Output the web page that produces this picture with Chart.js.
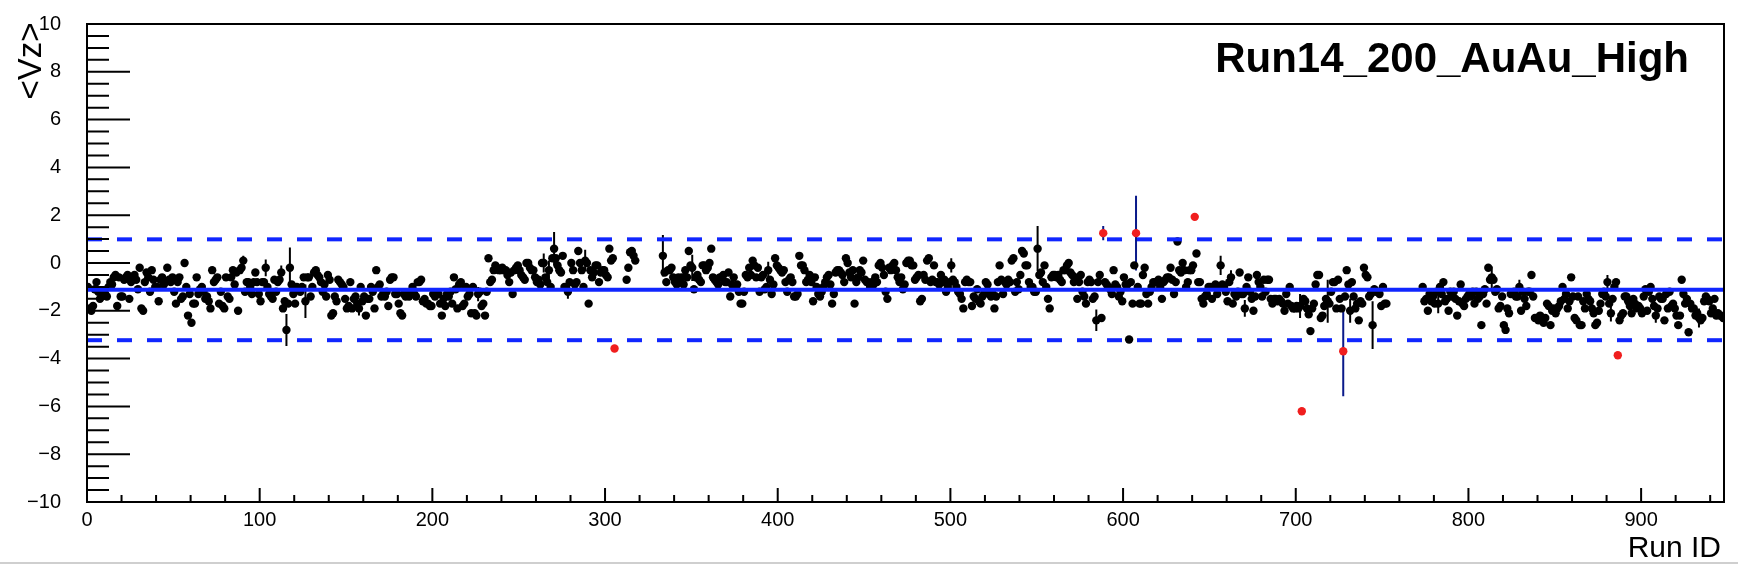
<!DOCTYPE html>
<html>
<head>
<meta charset="utf-8">
<title>Run14_200_AuAu_High &lt;Vz&gt;</title>
<script src="https://cdn.jsdelivr.net/npm/chart.js@4.4.1/dist/chart.umd.min.js"></script>
<style>
  html, body { margin: 0; padding: 0; background: #fff; }
  canvas { display: block; }
</style>
</head>
<body>
<canvas id="vzChart" width="1738" height="564"></canvas>
<script>
// ======= DATA =======
const plotTitle = "Run14_200_AuAu_High";
const xTitle = "Run ID";
const yTitle = "<Vz>";
const runMax = 948;
const yTicks = [-10, -8, -6, -4, -2, 0, 2, 4, 6, 8, 10];
const xTicks = [0, 100, 200, 300, 400, 500, 600, 700, 800, 900];

// fit lines
const vzMean = -1.12;
const vzUpper = 0.99;
const vzLower = -3.23;

// <Vz> per run index (null = no entry / flagged run)
const vz = [
  /*   0 */ -1.0, -1.9, -2.0, -1.8, -1.1, -0.8, -1.2, -1.5, -1.4, -1.2,
  /*  10 */ -1.3, -1.4, -1.0, -0.8, -0.9, -0.6, -0.5, -1.8, -0.6, -1.4,
  /*  20 */ -1.4, -0.7, -0.6, -0.5, -1.5, -0.8, -0.6, -0.5, -0.7, -1.1,
  /*  30 */ -0.2, -1.9, -2.0, -0.8, -0.4, -0.6, -1.2, -0.3, -0.7, -1.0,
  /*  40 */ -1.0, -1.6, -0.7, -0.6, -0.9, -0.8, -0.2, -0.7, -0.8, -0.6,
  /*  50 */ -1.2, -1.7, -0.8, -0.6, -1.5, -1.4, 0.0, -1.0, -2.2, -1.3,
  /*  60 */ -2.5, -1.7, -1.7, -0.6, -1.3, -1.1, -1.0, -1.2, -1.5, -1.4,
  /*  70 */ -1.6, -1.9, -0.3, -0.8, -0.7, -0.6, -1.7, -1.2, -1.8, -1.9,
  /*  80 */ -0.6, -1.4, -1.5, -0.6, -0.3, -0.9, -0.4, -2.0, -0.3, -0.2,
  /*  90 */ 0.1, -1.2, -0.8, -0.8, -1.0, -1.3, -0.8, -0.4, -0.8, -1.3,
  /* 100 */ -1.6, -0.8, -0.8, -0.2, -1.0, -1.3, -1.4, -1.5, -0.7, -1.2,
  /* 110 */ -0.8, -0.7, -0.4, -1.9, -1.6, -2.8, -1.7, -0.2, -0.9, -1.3,
  /* 120 */ -1.7, -1.0, -1.1, -1.2, -1.0, -0.6, -1.6, -0.6, -0.6, -1.4,
  /* 130 */ -1.0, -0.4, -0.3, -0.5, -0.6, -0.8, -1.2, -0.9, -1.4, -0.5,
  /* 140 */ -0.7, -2.2, -2.1, -1.4, -1.6, -0.7, -0.8, -0.9, -1.0, -1.5,
  /* 150 */ -1.9, -1.8, -0.8, -1.9, -1.5, -1.4, -1.7, -1.9, -1.0, -1.6,
  /* 160 */ -1.4, -2.2, -1.5, -1.5, -1.0, -1.2, -1.9, -0.3, -1.0, -0.9,
  /* 170 */ -1.4, -1.3, -1.4, -1.2, -1.8, -0.7, -0.6, -0.6, -1.3, -1.3,
  /* 180 */ -1.7, -2.1, -2.2, -1.3, -1.4, -1.3, -1.4, -1.3, -1.0, -1.3,
  /* 190 */ -1.4, -0.8, -0.8, -0.7, -1.6, -1.5, -1.7, -1.7, -1.8, -1.8,
  /* 200 */ -1.3, -1.4, -1.3, -1.3, -1.7, -2.2, -1.5, -1.8, -1.3, -1.4,
  /* 210 */ -1.2, -1.7, -0.6, -1.1, -1.9, -0.9, -0.8, -1.8, -1.7, -1.0,
  /* 220 */ -1.4, -1.3, -2.1, -1.0, -2.1, -2.2, -1.3, -1.2, -1.8, -1.7,
  /* 230 */ -2.2, -1.2, 0.2, -0.8, -0.7, -0.3, -0.1, -0.2, -0.3, -0.3,
  /* 240 */ -0.2, -0.3, -0.3, -0.5, -0.8, -0.4, -1.3, -0.3, -0.2, -0.1,
  /* 250 */ -0.3, -0.5, -0.6, -0.7, 0.0, 0.0, -0.2, -0.3, -0.3, -0.6,
  /* 260 */ -0.8, -0.7, -0.9, 0.0, 0.0, -0.6, -0.8, -0.3, -1.0, 0.2,
  /* 270 */ 0.6, 0.2, -0.1, -0.3, -0.4, 0.3, -1.0, -1.0, -1.2, -0.8,
  /* 280 */ 0.0, -0.3, -0.9, -0.8, 0.5, 0.0, -0.3, -1.0, 0.1, 0.0,
  /* 290 */ -1.7, -0.3, -0.6, -0.4, -0.1, -0.1, -0.8, -0.4, -0.3, -0.3,
  /* 300 */ -0.5, -0.6, 0.6, 0.1, 0.2, null, null, null, null, null,
  /* 310 */ null, null, -0.7, -0.2, 0.45, 0.5, 0.3, 0.1, null, null,
  /* 320 */ null, null, null, null, null, null, null, null, null, null,
  /* 330 */ null, null, null, 0.3, -0.4, -0.8, -0.3, -0.3, -0.2, -0.6,
  /* 340 */ -0.8, -0.9, -0.6, -0.8, -0.6, -0.9, -0.3, -0.6, 0.5, -0.1,
  /* 350 */ -0.2, -1.1, -0.6, -0.5, -0.7, -0.8, -0.1, -0.1, -0.3, -0.2,
  /* 360 */ 0.0, 0.6, -0.6, -0.7, -0.8, -0.9, -0.6, -0.6, -0.5, -0.8,
  /* 370 */ -0.8, -0.4, -1.4, -0.9, -0.6, -1.0, -0.9, -1.2, -1.7, -1.7,
  /* 380 */ -1.2, -0.5, -0.6, -0.2, -0.5, 0.1, -0.1, -0.6, -0.2, -1.2,
  /* 390 */ -0.6, -0.5, -1.1, -1.0, -0.3, -0.7, -1.3, -0.9, 0.2, -0.1,
  /* 400 */ -0.2, -0.3, -0.4, -0.3, -0.8, -1.2, -0.7, -0.6, -0.8, -1.4,
  /* 410 */ -1.4, -1.3, 0.3, -0.1, -0.1, -0.3, -0.8, -0.7, -0.5, -0.8,
  /* 420 */ -1.6, -0.6, -1.0, -1.3, -1.4, -1.2, -1.0, -0.8, -0.6, -0.5,
  /* 430 */ -0.9, -1.7, -1.3, -0.4, -0.3, -0.3, -0.4, -0.5, -0.8, 0.2,
  /* 440 */ 0.0, -0.4, -0.6, -0.3, -1.7, -0.8, -0.6, -0.3, -0.4, 0.1,
  /* 450 */ -0.7, -0.8, -0.8, -1.0, -0.8, -0.9, -0.6, -0.8, -0.1, 0.0,
  /* 460 */ -0.2, -0.5, -1.2, -1.5, -0.2, -0.3, -0.1, 0.0, -0.3, -0.6,
  /* 470 */ -0.8, -0.6, -1.1, -0.9, 0.0, 0.1, 0.1, -0.1, -0.1, -0.7,
  /* 480 */ -0.6, -0.5, -1.6, -1.5, -0.5, -0.7, 0.1, 0.2, -0.8, -0.7,
  /* 490 */ -0.1, -0.8, -0.8, -0.9, -0.5, -0.8, -0.7, -1.2, -1.0, -0.8,
  /* 500 */ -0.1, -0.7, -0.8, -1.0, -1.2, -1.3, -1.5, -1.9, -0.8, -0.7,
  /* 510 */ -0.8, -0.8, -1.8, -1.4, -1.5, -1.1, -1.6, -1.7, -1.4, -1.3,
  /* 520 */ -0.8, -0.9, -1.3, -1.4, -1.3, -1.9, -1.4, -0.8, -0.1, -0.7,
  /* 530 */ -1.3, -0.8, -0.9, -0.7, -0.8, 0.1, 0.2, -1.2, -0.8, -1.1,
  /* 540 */ -0.5, 0.5, 0.4, -0.1, -0.1, -0.8, -1.0, -1.0, -1.2, -1.2,
  /* 550 */ 0.6, -0.5, -0.4, -0.8, -0.1, -1.0, -1.5, -1.9, -0.6, -0.5,
  /* 560 */ -0.5, -0.6, -0.5, -0.7, -0.8, -0.3, -0.3, -0.1, 0.0, -0.4,
  /* 570 */ -0.5, -0.8, -0.6, -1.5, -0.8, -0.5, -1.2, -1.4, -1.7, -0.8,
  /* 580 */ -0.7, -0.8, -1.5, -1.4, -2.4, -0.8, -0.5, -2.3, null, -0.8,
  /* 590 */ -0.9, -1.0, -1.1, -1.3, -0.3, -0.9, -1.0, -1.4, -1.2, -1.6,
  /* 600 */ -0.6, -0.9, -0.9, -3.2, -0.8, -1.7, -0.1, null, -1.0, -1.7,
  /* 610 */ -1.7, -0.5, -0.2, -1.3, -1.7, -1.2, -1.0, -0.8, -0.8, -0.8,
  /* 620 */ -0.7, -1.0, -1.5, -0.8, -0.7, -0.6, -0.6, -0.2, -0.7, -1.3,
  /* 630 */ -0.8, 0.9, -0.3, -0.4, 0.0, -0.3, -1.0, -0.8, -0.3, -0.3,
  /* 640 */ -0.1, null, 0.4, -0.8, -0.8, -1.5, -1.7, -1.4, -1.3, -1.0,
  /* 650 */ -1.0, -1.5, -1.0, -0.9, -1.3, -1.0, -0.1, -0.9, -1.0, -1.2,
  /* 660 */ -1.6, -0.8, -0.6, -1.7, -1.3, -1.4, -1.2, -0.4, -1.3, -1.3,
  /* 670 */ -1.9, -1.0, -0.6, -1.2, -1.5, -2.0, -1.4, -0.5, -0.8, -1.0,
  /* 680 */ -1.4, -0.7, -1.2, -0.7, -0.7, -1.5, -1.7, -1.5, -1.5, -1.6,
  /* 690 */ -1.5, -1.6, -1.7, -2.0, -1.3, -1.7, -1.0, -1.8, -1.9, -1.9,
  /* 700 */ -1.8, -1.9, -1.8, null, -1.5, -1.6, -1.9, -2.15, -2.85, -1.9,
  /* 710 */ -1.7, -0.9, -0.5, -0.5, -2.3, -2.2, -1.8, -1.5, -1.6, -1.7,
  /* 720 */ -1.2, -0.8, -0.8, -1.9, -0.7, -1.5, -1.9, null, -1.4, -0.3,
  /* 730 */ -0.9, -2.0, -0.8, -1.4, -1.9, -1.7, -2.4, -1.6, -1.7, -0.2,
  /* 740 */ -0.5, -0.6, -1.4, -1.3, -2.6, -1.1, -1.2, -1.2, -1.3, -1.8,
  /* 750 */ -1.0, -1.7, -1.7, null, null, null, null, null, null, null,
  /* 760 */ null, null, null, null, null, null, null, null, null, null,
  /* 770 */ null, null, null, -1.0, -1.6, -1.5, -2.0, -1.3, -1.6, -1.4,
  /* 780 */ -1.7, -1.2, -1.7, -1.0, -1.3, -0.8, -1.6, -1.5, -2.0, -1.2,
  /* 790 */ -1.4, -1.2, -1.5, -2.2, -1.6, -0.9, -1.7, -1.8, -1.5, -1.4,
  /* 800 */ -1.3, -1.4, -1.2, -1.7, -1.2, -1.5, -1.4, -2.6, -1.3, -1.1,
  /* 810 */ -1.7, -0.2, -0.7, -0.6, -0.7, -1.2, -1.1, -1.9, -1.8, -1.4,
  /* 820 */ -2.6, -2.8, -1.9, -2.1, -1.3, -1.3, -1.2, -1.4, -1.4, -1.0,
  /* 830 */ -2.0, -1.2, -1.5, -1.8, -1.2, -1.2, -0.5, -1.4, -2.3, -2.3,
  /* 840 */ -2.4, -2.2, -2.4, -2.5, -2.3, -1.7, -1.8, -2.6, -2.0, -1.9,
  /* 850 */ -2.1, -1.9, -1.8, -1.6, -1.0, -1.5, -1.3, -1.9, -1.6, -0.6,
  /* 860 */ -1.4, -2.3, -2.4, -1.4, -2.6, -2.6, -1.6, -1.9, -1.3, -1.5,
  /* 870 */ -1.6, -1.9, -2.1, -2.6, -2.5, -2.0, -1.7, -1.3, -1.2, -1.4,
  /* 880 */ -0.8, -1.7, -2.1, -1.5, -1.0, -0.8, null, -2.4, -2.2, -2.1,
  /* 890 */ -1.4, -1.4, -1.6, -1.8, -2.1, -1.5, -1.7, -1.9, -1.8, -1.9,
  /* 900 */ -2.1, -1.4, -1.1, -2.0, -1.2, -1.0, -1.5, -1.8, -2.2, -1.9,
  /* 910 */ -1.4, -1.5, -1.5, -2.4, -1.3, -1.9, -1.2, -1.8, -1.7, -1.9,
  /* 920 */ -2.2, -2.6, -2.2, -0.7, -1.3, -1.7, -1.5, -2.9, -1.7, -1.9,
  /* 930 */ -1.9, -2.2, -2.1, -2.3, -2.4, -2.3, -1.6, -1.4, -1.5, -1.6,
  /* 940 */ -2.1, -1.9, -1.5, -2.2, -2.1, -2.2, -2.2, -2.3
];

// visible error bars on black points
const errRuns = [90, 103, 112, 115, 117, 126, 157, 226, 264, 267, 270, 278, 288, 333, 350, 394,
  500, 550, 584, 656, 662, 670, 702, 718, 731, 744, 782, 813, 829, 880, 882, 908, 933];
const errVz = [0.2, 0.35, 0.3, 0.67, 0.85, 0.7, 0.3, 0.3, 0.4, 0.4, 0.7, 0.3, 0.45, 0.87, 0.55, 0.35,
  0.3, 0.95, 0.45, 0.4, 0.3, 0.35, 0.5, 0.9, 0.5, 1.0, 0.4, 0.45, 0.3, 0.3, 0.35, 0.3, 0.4];

// flagged (bad) runs
const badRuns = [305, 588, 607, 641, 703, 727, 886];
const badVz = [-3.58, 1.25, 1.25, 1.93, -6.2, -3.69, -3.86];
const badErr = [0.13, 0.3, 1.56, 0.08, 0.08, 1.89, 0.08];

const BLUE = 'rgb(16, 38, 255)';
const FONT = '"Liberation Sans", Arial, Helvetica, sans-serif';

Chart.defaults.font.family = FONT;
Chart.defaults.color = '#000';

const goodPoints = [];
vz.forEach((v, i) => { if (v !== null) goodPoints.push({ x: i + 0.5, y: v }); });
const badPoints = badRuns.map((r, k) => ({ x: r + 0.5, y: badVz[k] }));

function hline(v) {
  return [{ x: 0, y: v }, { x: runMax, y: v }];
}
function minusSign(v) {
  return v < 0 ? '\u2212' + Math.abs(v) : String(v);
}

// error bars, drawn under the markers
const errorBars = {
  id: 'errorBars',
  beforeDatasetsDraw(chart) {
    const { ctx, scales: { x, y } } = chart;
    ctx.save();
    ctx.lineWidth = 2;
    ctx.strokeStyle = '#000';
    ctx.beginPath();
    errRuns.forEach((r, k) => {
      const v = vz[r];
      if (v === null) return;
      const px = x.getPixelForValue(r + 0.5);
      ctx.moveTo(px, y.getPixelForValue(v + errVz[k]));
      ctx.lineTo(px, y.getPixelForValue(v - errVz[k]));
    });
    ctx.stroke();
    ctx.strokeStyle = '#0a1a8a';
    ctx.beginPath();
    badRuns.forEach((r, k) => {
      const px = x.getPixelForValue(r + 0.5);
      ctx.moveTo(px, y.getPixelForValue(badVz[k] + badErr[k]));
      ctx.lineTo(px, y.getPixelForValue(badVz[k] - badErr[k]));
    });
    ctx.stroke();
    ctx.restore();
  }
};

// ROOT style frame: inward ticks, box, titles
const rootFrame = {
  id: 'rootFrame',
  afterDraw(chart) {
    const { ctx, chartArea: a, scales: { x, y } } = chart;
    ctx.save();
    ctx.strokeStyle = '#000';
    ctx.lineWidth = 2;
    ctx.beginPath();
    for (let k = 0; k <= 40; k++) {
      const v = -10 + k * 0.5;
      const py = y.getPixelForValue(v);
      const len = k % 4 === 0 ? 43 : 22;
      ctx.moveTo(a.left, py);
      ctx.lineTo(a.left + len, py);
    }
    for (let r = 0; r <= runMax; r += 20) {
      const px = x.getPixelForValue(r);
      const len = r % 100 === 0 ? 14 : 7;
      ctx.moveTo(px, a.bottom);
      ctx.lineTo(px, a.bottom - len);
    }
    ctx.stroke();
    ctx.strokeRect(a.left, a.top, a.right - a.left, a.bottom - a.top);

    ctx.fillStyle = '#000';
    ctx.font = 'bold 42px ' + FONT;
    ctx.textAlign = 'right';
    ctx.textBaseline = 'alphabetic';
    ctx.fillText(plotTitle, 1689, 72);

    ctx.font = '30px ' + FONT;
    ctx.fillText(xTitle, 1721, 557);

    ctx.translate(41, 61);
    ctx.rotate(-Math.PI / 2);
    ctx.textAlign = 'center';
    ctx.font = '33px ' + FONT;
    ctx.fillText(yTitle, 0, 0);
    ctx.restore();

    ctx.save();
    ctx.fillStyle = '#cfcfcf';
    ctx.fillRect(0, 562, chart.width, 2);
    ctx.restore();
  }
};

new Chart(document.getElementById('vzChart'), {
  type: 'scatter',
  data: {
    datasets: [
      {
        label: 'mean',
        data: hline(vzMean),
        showLine: true,
        borderColor: BLUE,
        borderWidth: 4,
        pointRadius: 0,
        order: 1
      },
      {
        label: 'upper',
        data: hline(vzUpper),
        showLine: true,
        borderColor: BLUE,
        borderWidth: 4,
        borderDash: [15, 15],
        pointRadius: 0,
        order: 1
      },
      {
        label: 'lower',
        data: hline(vzLower),
        showLine: true,
        borderColor: BLUE,
        borderWidth: 4,
        borderDash: [15, 15],
        pointRadius: 0,
        order: 1
      },
      {
        label: 'runs',
        data: goodPoints,
        pointRadius: 4.2,
        pointBackgroundColor: '#000',
        pointBorderWidth: 0,
        order: 3
      },
      {
        label: 'bad runs',
        data: badPoints,
        pointRadius: 4.2,
        pointBackgroundColor: 'rgb(240, 30, 30)',
        pointBorderWidth: 0,
        order: 2
      }
    ]
  },
  options: {
    responsive: false,
    devicePixelRatio: 1,
    animation: false,
    layout: { padding: { top: 24, right: 14, left: 0, bottom: 0 } },
    plugins: {
      legend: { display: false },
      tooltip: { enabled: false }
    },
    scales: {
      x: {
        type: 'linear',
        min: 0,
        max: runMax,
        grid: { display: false, drawTicks: false },
        border: { display: false },
        afterFit(scale) {
          scale.height = 62;
          scale.paddingLeft = 0;
          scale.paddingRight = 0;
        },
        afterBuildTicks(scale) { scale.ticks = xTicks.map(v => ({ value: v })); },
        ticks: {
          padding: 6,
          maxRotation: 0,
          autoSkip: false,
          font: { size: 20 },
          color: '#000',
          callback: v => String(v)
        }
      },
      y: {
        type: 'linear',
        min: -10,
        max: 10,
        grid: { display: false, drawTicks: false },
        border: { display: false },
        afterFit(scale) {
          scale.width = 87;
          scale.paddingTop = 0;
          scale.paddingBottom = 0;
        },
        afterBuildTicks(scale) { scale.ticks = yTicks.map(v => ({ value: v })); },
        ticks: {
          padding: 26,
          autoSkip: false,
          font: { size: 20 },
          color: '#000',
          callback: v => minusSign(v)
        }
      }
    }
  },
  plugins: [errorBars, rootFrame]
});
</script>
</body>
</html>
